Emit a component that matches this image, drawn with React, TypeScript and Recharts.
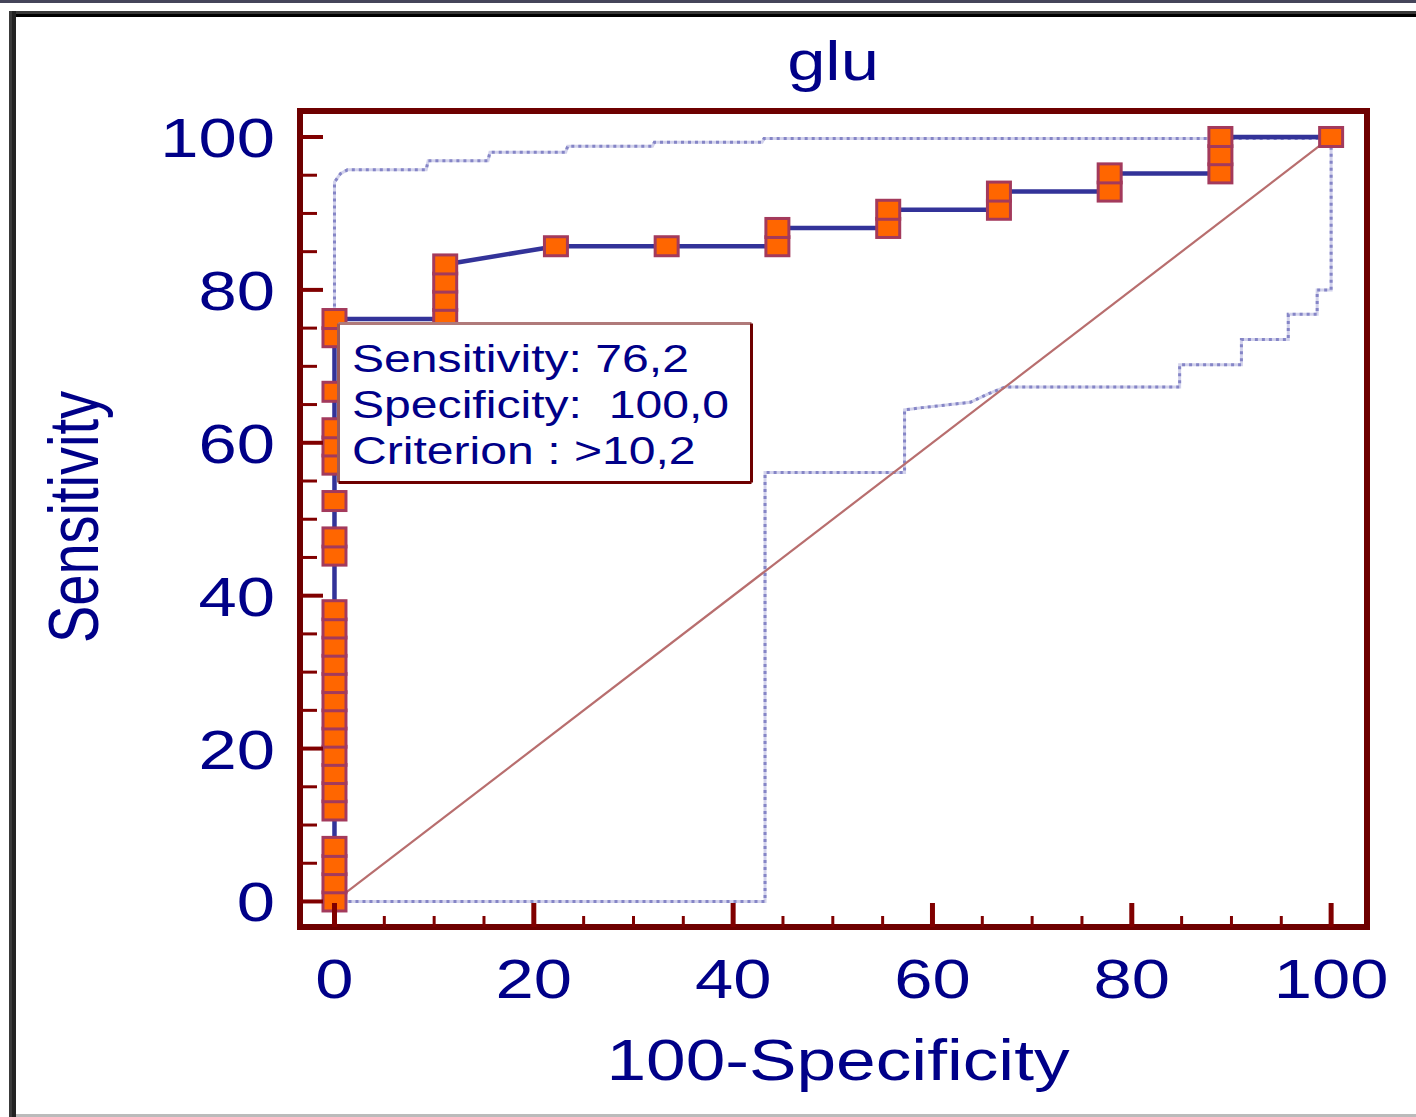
import React from 'react';
import { ComposedChart, Line, XAxis, YAxis, ReferenceArea } from 'recharts';

// ROC curve (100-Specificity, Sensitivity)
const rocFpr = [
  0, 0, 0, 0, 0, 0, 0, 0, 0, 0, 0, 0, 0, 0, 0, 0, 0, 0, 0, 0, 0, 0, 0, 0, 0,
  11.11, 11.11, 11.11, 11.11, 22.22, 33.33, 44.44, 44.44, 55.56, 55.56,
  66.67, 66.67, 77.78, 77.78, 88.89, 88.89, 88.89, 100,
];
const rocSens = [
  0, 2.38, 4.76, 7.14, 11.9, 14.29, 16.67, 19.05, 21.43, 23.81, 26.19, 28.57,
  30.95, 33.33, 35.71, 38.1, 45.24, 47.62, 52.38, 57.14, 59.52, 61.9, 66.67,
  73.81, 76.19,
  76.19, 78.57, 80.95, 83.33, 85.71, 85.71, 85.71, 88.1, 88.1, 90.48,
  90.48, 92.86, 92.86, 95.24, 95.24, 97.62, 100, 100,
];

// confidence bounds (dotted)
const upperFpr = [0, 0, 0.6, 1.3, 9.2, 9.4, 15.4, 15.6, 23.2, 23.4, 31.9, 32.1, 42.9, 43.1, 100];
const upperSens = [0, 94.1, 95.2, 95.7, 95.7, 96.9, 96.9, 98.0, 98.0, 98.8, 98.8, 99.3, 99.3, 99.8, 99.8];

const lowerFpr = [0, 43.2, 43.2, 57.2, 57.2, 59.0, 63.8, 65.6, 67.3, 84.8, 84.8, 91.0, 91.0, 95.7, 95.7, 98.6, 98.6, 100, 100];
const lowerSens = [0, 0, 56.1, 56.1, 64.3, 64.6, 65.3, 66.4, 67.3, 67.3, 70.2, 70.2, 73.5, 73.5, 76.8, 76.8, 80.0, 80.0, 100];

const diagFpr = [0, 100];
const diagSens = [0, 100];

const axisTicks = [0, 5, 10, 15, 20, 25, 30, 35, 40, 45, 50, 55, 60, 65, 70, 75, 80, 85, 90, 95, 100];
const majorTicks = [0, 20, 40, 60, 80, 100];

const xDomain = [-3.46, 103.6];
const yDomain = [-3.34, 103.4];

const zip = (xs: number[], ys: number[]) => xs.map((x, i) => ({ x, y: ys[i] }));

const rocData = zip(rocFpr, rocSens);
const upperData = zip(upperFpr, upperSens);
const lowerData = zip(lowerFpr, lowerSens);
const diagData = zip(diagFpr, diagSens);

const FONT = "'Liberation Sans', Arial, sans-serif";
const NAVY = '#000088';
const FRAME = '#6E0000';
const TICK = '#800000';
const SX = 1.25; // the source image is stretched sideways

const XTick = (props: any) => {
  const { x, y, payload } = props;
  const v = payload.value;
  const major = majorTicks.includes(v);
  return (
    <g>
      <line x1={x} x2={x} y1={y} y2={y - (major ? 24 : 11)} stroke={TICK} strokeWidth={major ? 5 : 3} />
      {major && (
        <text transform={`translate(${x},${y + 71}) scale(${SX},1)`} textAnchor="middle"
          fontSize={55} fontFamily={FONT} fill={NAVY}>{v}</text>
      )}
    </g>
  );
};

const YTick = (props: any) => {
  const { x, y, payload } = props;
  const v = payload.value;
  const major = majorTicks.includes(v);
  return (
    <g>
      <line x1={x} x2={x + (major ? 23 : 17)} y1={y} y2={y} stroke={TICK} strokeWidth={major ? 4 : 3} />
      {major && (
        <text transform={`translate(${x - 25},${y + 20}) scale(${SX},1)`} textAnchor="end"
          fontSize={55} fontFamily={FONT} fill={NAVY}>{v}</text>
      )}
    </g>
  );
};

const SquareDot = (props: any) => {
  const { cx, cy, index } = props;
  if (cx == null || cy == null) return <g key={`d${index}`} />;
  return (
    <rect key={`d${index}`} x={cx - 11.5} y={cy - 9.5} width={23} height={19}
      fill="#FF6600" stroke="#A33A5C" strokeWidth={3} />
  );
};

export default function App() {
  return (
    <div style={{ position: 'absolute', left: 0, top: 0, width: 1416, height: 1117, background: '#fff', overflow: 'hidden' }}>
      {/* window chrome */}
      <div style={{ position: 'absolute', left: 0, top: 0, width: 1416, height: 3, background: '#45455A' }} />
      <div style={{ position: 'absolute', left: 9, top: 11, width: 1407, height: 3, background: '#3A3A3A' }} />
      <div style={{ position: 'absolute', left: 9, top: 14, width: 1407, height: 3, background: '#000' }} />
      <div style={{ position: 'absolute', left: 9, top: 11, width: 3, height: 1106, background: '#3A3A3A' }} />
      <div style={{ position: 'absolute', left: 12, top: 11, width: 4, height: 1106, background: '#222' }} />
      <div style={{ position: 'absolute', left: 16, top: 1114, width: 1400, height: 3, background: '#BBBBBB' }} />

      <div style={{ position: 'absolute', left: 0, top: 0 }}>
        <ComposedChart width={1416} height={1117} margin={{ top: 111, right: 49, bottom: 0, left: 0 }}>
          <XAxis dataKey="x" type="number" domain={xDomain} allowDataOverflow ticks={axisTicks}
            interval={0} height={190} tickSize={0} tickMargin={0} tickLine={false} axisLine={false} tick={<XTick />} />
          <YAxis dataKey="y" type="number" domain={yDomain} allowDataOverflow ticks={axisTicks}
            interval={0} width={300} tickSize={0} tickMargin={0} tickLine={false} axisLine={false} tick={<YTick />} />
          <Line data={upperData} dataKey="y" stroke="#D2D2EC" strokeWidth={3}
            dot={false} activeDot={false} isAnimationActive={false} />
          <Line data={upperData} dataKey="y" stroke="#8585C6" strokeWidth={3} strokeDasharray="3 4"
            dot={false} activeDot={false} isAnimationActive={false} />
          <Line data={lowerData} dataKey="y" stroke="#D2D2EC" strokeWidth={3}
            dot={false} activeDot={false} isAnimationActive={false} />
          <Line data={lowerData} dataKey="y" stroke="#8585C6" strokeWidth={3} strokeDasharray="3 4"
            dot={false} activeDot={false} isAnimationActive={false} />
          <Line data={diagData} dataKey="y" stroke="#B86E6E" strokeWidth={2.2} dot={false}
            activeDot={false} isAnimationActive={false} />
          <Line data={rocData} dataKey="y" stroke="#333399" strokeWidth={4.5} dot={<SquareDot />}
            activeDot={false} isAnimationActive={false} />
          <ReferenceArea x1={xDomain[0]} x2={xDomain[1]} y1={yDomain[0]} y2={yDomain[1]}
            fill="none" stroke={FRAME} strokeWidth={6} ifOverflow="visible" />
        </ComposedChart>
      </div>

      {/* titles and the criterion box */}
      <svg width={1416} height={1117} style={{ position: 'absolute', left: 0, top: 0, pointerEvents: 'none' }}>
        <text transform={`translate(833,80) scale(${SX},1)`} textAnchor="middle" fontSize={55}
          fontFamily={FONT} fill={NAVY}>glu</text>
        <text transform={`translate(838,1080) scale(${SX},1)`} textAnchor="middle" fontSize={57}
          fontFamily={FONT} fill={NAVY}>100-Specificity</text>
        <text transform={`translate(98,517) rotate(-90) scale(1,${SX})`} textAnchor="middle" fontSize={56}
          fontFamily={FONT} fill={NAVY}>Sensitivity</text>

        <rect x={338.5} y={323.5} width={413} height={159} fill="#fff" />
        <line x1={338.5} y1={323.5} x2={751.5} y2={323.5} stroke="#B07A7A" strokeWidth={3} />
        <line x1={338.5} y1={323.5} x2={338.5} y2={482.5} stroke="#9A5A5A" strokeWidth={3} />
        <line x1={751.5} y1={323.5} x2={751.5} y2={482.5} stroke={FRAME} strokeWidth={3} />
        <line x1={338.5} y1={482.5} x2={751.5} y2={482.5} stroke={FRAME} strokeWidth={3} />
        <g fontSize={38.5} fontFamily={FONT} fill={NAVY}>
          <text transform={`translate(352,372) scale(${SX},1)`}>Sensitivity: 76,2</text>
          <text transform={`translate(352,418) scale(${SX},1)`} xmlSpace="preserve">{'Specificity:  100,0'}</text>
          <text transform={`translate(352,464) scale(${SX},1)`}>Criterion : &gt;10,2</text>
        </g>
      </svg>
    </div>
  );
}
